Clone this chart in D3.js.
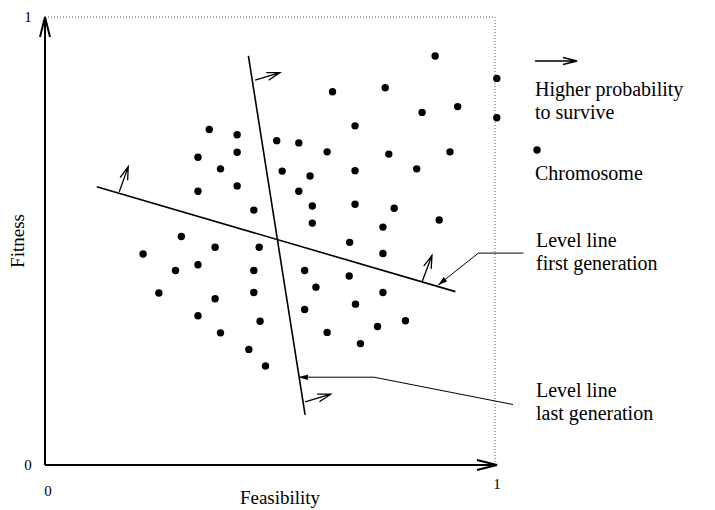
<!DOCTYPE html>
<html>
<head>
<meta charset="utf-8">
<script src="https://cdn.jsdelivr.net/npm/d3@7"></script>
<style>
  html, body { margin: 0; padding: 0; background: #fff; }
  svg { display: block; }
  text { font-family: "Liberation Serif", "Times New Roman", "DejaVu Serif", serif; fill: #000; }
</style>
</head>
<body>
<svg id="chart" width="715" height="510"></svg>
<script>
// ---- Data (unit square: Feasibility x Fitness) ----
const chromosomeX = [0.365,0.427,0.427,0.340,0.390,0.427,0.340,0.464,0.303,0.378,0.476,
  0.867,1.004,0.756,0.639,0.917,0.838,1.004,0.689,0.515,0.564,0.627,0.764,0.900,0.527,
  0.589,0.689,0.826,0.564,0.594,0.689,0.776,0.594,0.751,0.876,0.677,0.218,0.290,0.340,
  0.464,0.577,0.676,0.602,0.253,0.378,0.464,0.690,0.577,0.340,0.478,0.390,0.627,0.701,
  0.453,0.490,0.751,0.751,0.801,0.739];
const chromosomeY = [0.749,0.737,0.698,0.687,0.661,0.623,0.611,0.569,0.510,0.486,0.486,
  0.913,0.863,0.842,0.833,0.800,0.787,0.775,0.757,0.724,0.719,0.699,0.694,0.699,0.656,
  0.645,0.657,0.661,0.611,0.578,0.582,0.573,0.540,0.531,0.547,0.497,0.471,0.434,0.447,
  0.434,0.434,0.422,0.397,0.384,0.371,0.385,0.359,0.347,0.333,0.321,0.295,0.296,0.271,
  0.258,0.221,0.472,0.385,0.322,0.309];

// level lines: [x, y] endpoints
const firstGenLine = [[0.115, 0.621], [0.912, 0.387]];
const lastGenLine  = [[0.452, 0.913], [0.578, 0.112]];
// "higher probability to survive" arrows: tail -> tip
const surviveArrows = [
  [[0.165, 0.610], [0.185, 0.666]],
  [[0.838, 0.409], [0.860, 0.468]],
  [[0.467, 0.859], [0.522, 0.876]],
  [[0.578, 0.141], [0.635, 0.158]]
];
// callout leader lines (last point = arrow tip)
const firstGenCallout = [[1.063, 0.473], [0.963, 0.473], [0.874, 0.402]];
const lastGenCallout  = [[1.040, 0.135], [0.731, 0.196], [0.564, 0.196]];

const xTickLabels = ["0", "1"];
const yTickLabels = ["0", "1"];
const xTitle = "Feasibility";
const yTitle = "Fitness";
const legendArrowText = ["Higher probability", "to survive"];
const legendDotText = "Chromosome";
const firstGenText = ["Level line", "first generation"];
const lastGenText = ["Level line", "last generation"];

// ---- Layout ----
const svg = d3.select("#chart");
const x = d3.scaleLinear().domain([0, 1]).range([45, 495]);
const y = d3.scaleLinear().domain([0, 1]).range([465, 17]);

function arrowPath(x1, y1, x2, y2, L, W) {
  const dx = x2 - x1, dy = y2 - y1, len = Math.hypot(dx, dy);
  const ux = dx / len, uy = dy / len, nx = -uy, ny = ux;
  const bx = x2 - L * ux, by = y2 - L * uy;
  return `M${x1},${y1}L${x2},${y2}M${bx + W * nx},${by + W * ny}L${x2},${y2}L${bx - W * nx},${by - W * ny}`;
}
function headTriangle(x1, y1, x2, y2, L, W) {
  const dx = x2 - x1, dy = y2 - y1, len = Math.hypot(dx, dy);
  const ux = dx / len, uy = dy / len, nx = -uy, ny = ux;
  const bx = x2 - L * ux, by = y2 - L * uy;
  return `M${x2},${y2}L${bx + W * nx},${by + W * ny}L${bx - W * nx},${by - W * ny}Z`;
}

// dotted frame (top and right)
svg.append("path")
  .attr("d", `M${x(0)},${y(1)}H${x(1)}V${y(0)}`)
  .attr("fill", "none").attr("stroke", "#555").attr("stroke-width", 1)
  .attr("stroke-dasharray", "1,2");

// axes with open arrowheads
svg.append("path")
  .attr("d", arrowPath(x(0), y(0), x(0), y(1), 20, 5))
  .attr("fill", "none").attr("stroke", "#000").attr("stroke-width", 2);
svg.append("path")
  .attr("d", arrowPath(x(0), y(0), x(1) + 2, y(0), 20, 5))
  .attr("fill", "none").attr("stroke", "#000").attr("stroke-width", 2);

// tick labels
svg.append("text").attr("x", x(0) - 17).attr("y", y(0) + 5).attr("text-anchor", "middle")
  .attr("font-size", 15).text(yTickLabels[0]);
svg.append("text").attr("x", x(0) - 17).attr("y", y(1) + 5).attr("text-anchor", "middle")
  .attr("font-size", 15).text(yTickLabels[1]);
svg.append("text").attr("x", x(0) + 3).attr("y", y(0) + 31).attr("text-anchor", "middle")
  .attr("font-size", 15).text(xTickLabels[0]);
svg.append("text").attr("x", x(1) + 2).attr("y", y(0) + 24).attr("text-anchor", "middle")
  .attr("font-size", 15).text(xTickLabels[1]);

// axis titles
svg.append("text").attr("x", (x(0) + x(1)) / 2 + 10).attr("y", 504).attr("text-anchor", "middle")
  .attr("font-size", 19).text(xTitle);
svg.append("text").attr("transform", `translate(24,${y(0.5)}) rotate(-90)`)
  .attr("text-anchor", "middle").attr("font-size", 19).text(yTitle);

// level lines
[firstGenLine, lastGenLine].forEach(l => {
  svg.append("line")
    .attr("x1", x(l[0][0])).attr("y1", y(l[0][1]))
    .attr("x2", x(l[1][0])).attr("y2", y(l[1][1]))
    .attr("stroke", "#000").attr("stroke-width", 1.6);
});

// survive arrows
svg.selectAll(".surv").data(surviveArrows).join("path")
  .attr("class", "surv")
  .attr("d", d => arrowPath(x(d[0][0]), y(d[0][1]), x(d[1][0]), y(d[1][1]), 13, 4))
  .attr("fill", "none").attr("stroke", "#000").attr("stroke-width", 1.3);

// callouts
[firstGenCallout, lastGenCallout].forEach(c => {
  const line = d3.line().x(d => x(d[0])).y(d => y(d[1]));
  svg.append("path").attr("d", line(c)).attr("fill", "none")
    .attr("stroke", "#000").attr("stroke-width", 1);
  const a = c[c.length - 2], b = c[c.length - 1];
  svg.append("path").attr("d", headTriangle(x(a[0]), y(a[1]), x(b[0]), y(b[1]), 9, 2.8))
    .attr("fill", "#000");
});

// chromosomes
svg.selectAll(".chrom").data(chromosomeX).join("circle")
  .attr("class", "chrom")
  .attr("cx", (d, i) => x(d)).attr("cy", (d, i) => y(chromosomeY[i]))
  .attr("r", 3.7).attr("fill", "#000");

// legend
const lx = 535;
svg.append("path").attr("d", arrowPath(lx, 61, lx + 42, 61, 14, 3.5))
  .attr("fill", "none").attr("stroke", "#000").attr("stroke-width", 1.3);
legendArrowText.forEach((t, i) => {
  svg.append("text").attr("x", lx).attr("y", 96 + i * 23).attr("font-size", 20).text(t);
});
svg.append("circle").attr("cx", lx + 2).attr("cy", 150).attr("r", 3.7).attr("fill", "#000");
svg.append("text").attr("x", lx).attr("y", 180).attr("font-size", 20).text(legendDotText);

firstGenText.forEach((t, i) => {
  svg.append("text").attr("x", lx + 1).attr("y", 247 + i * 23).attr("font-size", 20).text(t);
});
lastGenText.forEach((t, i) => {
  svg.append("text").attr("x", lx + 1).attr("y", 397 + i * 23).attr("font-size", 20).text(t);
});
</script>
</body>
</html>
